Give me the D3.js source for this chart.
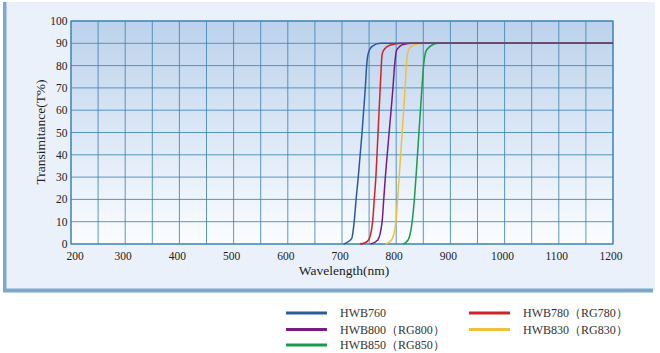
<!DOCTYPE html>
<html><head><meta charset="utf-8">
<script src="https://cdn.jsdelivr.net/npm/d3@7"></script>
<style>body{margin:0;background:#fff;}svg{display:block;} text{font-family:"Liberation Serif","DejaVu Serif",serif;}</style>
</head><body>
<svg id="c" width="660" height="353"></svg>
<script>
const xTicks = [200,300,400,500,600,700,800,900,1000,1100,1200];
const yTicks = [0,10,20,30,40,50,60,70,80,90,100];
const seriesNames = ["HWB760","HWB780（RG780）","HWB800（RG800）","HWB830（RG830）","HWB850（RG850）"];
const seriesColors = ["#2d5a9c","#d1232b","#7a1c7f","#f0c03c","#1b9a4e"];
const hwb760 = [[703,0],[708,0.5],[718,2.5],[722.5,10],[726,20],[730,30],[733.5,40],[737,50],[740,60],[743,70],[745.5,80],[748,85],[755,88.5],[770,90],[1200,90]];
const hwb780 = [[733,0],[740,0.3],[749,1.8],[756.5,10],[759.5,20],[762.5,30],[766.5,50],[770.5,70],[772.5,80],[774,85],[777,87],[789,89.2],[810,90],[1200,90]];
const hwb800 = [[753,0],[766,1.8],[774,10],[777,20],[780,30],[787,50],[794,70],[797,80],[801,87],[813,89.5],[831,90],[1200,90]];
const hwb830 = [[780,0],[791.5,1.8],[799.5,10],[802.5,20],[805.5,30],[811,50],[816.5,70],[818.8,80],[822.5,87],[835,89.5],[850,90],[1200,90]];
const hwb850 = [[813,0],[822,1.8],[829.5,10],[833.5,20],[836.5,30],[842,50],[847.5,70],[850.5,80],[856,87],[868.5,89.5],[878,90],[1200,90]];
const seriesData = [hwb760,hwb780,hwb800,hwb830,hwb850];

const svg = d3.select("#c");
const L=71,R=613,T=21,B=244;
const x = d3.scaleLinear().domain([200,1200]).range([L,R]);
const y = d3.scaleLinear().domain([0,100]).range([B,T]);

svg.append("rect").attr("x",3).attr("y",2).attr("width",652).attr("height",289).attr("fill","#eaf1fb");
svg.append("rect").attr("x",3).attr("y",2).attr("width",3.5).attr("height",290).attr("fill","#7fa9cf");
svg.append("rect").attr("x",3).attr("y",288.5).attr("width",650).attr("height",4).attr("fill","#7ca8cb");

const defs = svg.append("defs");
const g = defs.append("linearGradient").attr("id","pg").attr("x1",0).attr("y1",0).attr("x2",0).attr("y2",1);
g.append("stop").attr("offset","0%").attr("stop-color","#bcd2ec");
g.append("stop").attr("offset","100%").attr("stop-color","#fbfdff");
svg.append("rect").attr("x",L).attr("y",T).attr("width",R-L).attr("height",B-T).attr("fill","url(#pg)");

const gridColor="#3f87b5";
const xs = d3.range(200,1201,50);
svg.append("g").selectAll("line").data(xs).join("line")
  .attr("x1",d=>x(d)).attr("x2",d=>x(d)).attr("y1",T).attr("y2",B)
  .attr("stroke",gridColor).attr("stroke-width",1).attr("opacity",0.85);
svg.append("g").selectAll("line").data(yTicks).join("line")
  .attr("x1",L).attr("x2",R).attr("y1",d=>y(d)).attr("y2",d=>y(d))
  .attr("stroke",gridColor).attr("stroke-width",1).attr("opacity",0.85);
svg.append("rect").attr("x",L).attr("y",T).attr("width",R-L).attr("height",B-T)
  .attr("fill","none").attr("stroke","#3f87b5").attr("stroke-width",1.2);

svg.append("g").selectAll("text").data(xTicks).join("text")
  .attr("x",(d,i)=>x(d)+(i===0?4:-2)).attr("y",260)
  .attr("text-anchor","middle").attr("font-size",11.5).attr("fill","#222")
  .text(d=>d);
svg.append("g").selectAll("text").data(yTicks).join("text")
  .attr("x",L-3.5).attr("y",d=>y(d)).attr("dy","0.35em")
  .attr("text-anchor","end").attr("font-size",11.5).attr("fill","#222")
  .text(d=>d);

svg.append("text").attr("x",(L+R)/2+2).attr("y",274.5).attr("text-anchor","middle")
  .attr("font-size",13.5).attr("fill","#222").text("Wavelength(nm)");
svg.append("text").attr("transform","translate(45,132) rotate(-90)").attr("text-anchor","middle")
  .attr("font-size",13.5).attr("fill","#222").text("Transimitance(T%)");

const line = d3.line().x(d=>x(d[0])).y(d=>y(d[1])).curve(d3.curveMonotoneX);
const order=[4,3,2,1,0];
svg.append("g").selectAll("path").data(order).join("path")
  .attr("d",i=>line(seriesData[i])).attr("fill","none")
  .attr("stroke",i=>seriesColors[i]).attr("stroke-width",1.5);

const legPos = [[286,313],[469,313],[286,329.5],[469,329.5],[286,345]];
const lg = svg.append("g").selectAll("g").data(seriesNames).join("g")
  .attr("transform",(d,i)=>`translate(${legPos[i][0]},${legPos[i][1]})`);
lg.append("line").attr("x1",0).attr("x2",41).attr("y1",0).attr("y2",0)
  .attr("stroke",(d,i)=>seriesColors[i]).attr("stroke-width",3);
lg.append("text").attr("x",54).attr("y",0).attr("dy","0.35em")
  .attr("font-size",12).attr("fill","#333").text(d=>d);
</script>
</body></html>
